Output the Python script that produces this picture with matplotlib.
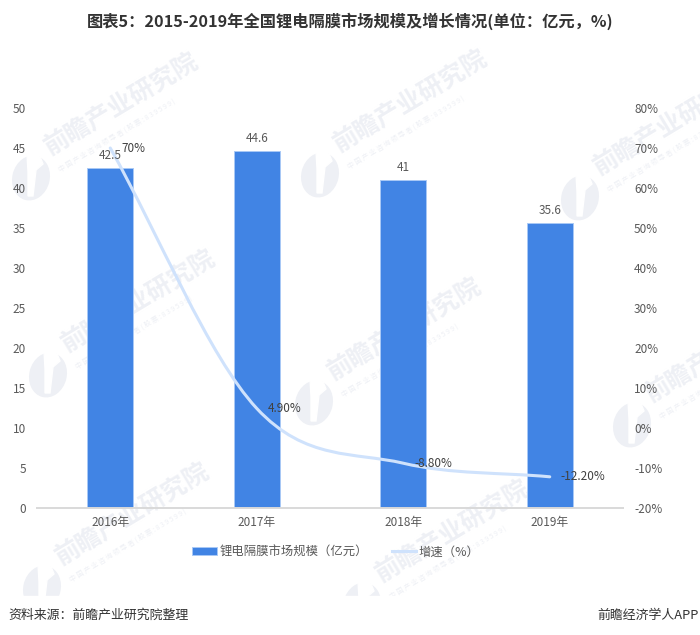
import matplotlib
matplotlib.use("Agg")
import matplotlib.pyplot as plt
from matplotlib.lines import Line2D
from matplotlib.patches import Ellipse, Patch, PathPatch, Polygon, Rectangle
from matplotlib.path import Path
from matplotlib.transforms import IdentityTransform

plt.rcParams["font.family"] = ["Noto Sans CJK SC", "DejaVu Sans"]

# 数据
years = ["2016年", "2017年", "2018年", "2019年"]
market_size = [42.5, 44.6, 41, 35.6]
growth = [70, 4.9, -8.8, -12.2]
growth_labels = ["70%", "4.90%", "-8.80%", "-12.20%"]
left_ticks = [0, 5, 10, 15, 20, 25, 30, 35, 40, 45, 50]
right_ticks = [-20, -10, 0, 10, 20, 30, 40, 50, 60, 70, 80]

W, H = 700, 635
BAR = "#4184e4"
LINE = "#cfe2fc"
GREY = "#595959"
MARK = "#eef0f5"

# 水印位置 (像素，左上角为原点)
marks = [(47, 150), (336, 147), (596, 170),
         (64, 347), (330, 375), (648, 397),
         (58, 560), (378, 577)]

fig = plt.figure(figsize=(W / 100, H / 100), dpi=100)
fig.patch.set_facecolor("white")

# 水印
for x, y in marks:
    fig.text(x / W, 1 - y / H, "前瞻产业研究院", fontsize=18, fontweight="bold", color=MARK,
             rotation=31, rotation_mode="anchor", ha="left", va="center", zorder=-3)
    fig.text((x + 12) / W, 1 - (y + 20) / H, " ".join("中国产业咨询领导者(股票:839599)"),
             fontsize=5, color=MARK, rotation=31, rotation_mode="anchor",
             ha="left", va="center", zorder=-3)
    cx, cy = x - 16, H - (y + 28)
    logo = Ellipse((cx, cy), 36, 44, angle=-15, color=MARK,
                   transform=IdentityTransform(), zorder=-3)
    slit = Polygon([(cx - 3, cy - 18), (cx + 2, cy - 18), (cx + 5, cy + 8), (cx + 12, cy + 14),
                    (cx + 8, cy + 24), (cx - 4, cy + 24), (cx - 3, cy + 6)], closed=True, color="white",
                   transform=IdentityTransform(), zorder=-2.9)
    fig.add_artist(logo)
    fig.add_artist(slit)
fig.add_artist(Rectangle((0, 0), W, H - 596, color="white",
                         transform=IdentityTransform(), zorder=-1))

ax = fig.add_axes([37 / W, (H - 508) / H, 586 / W, 400 / H])
ax.patch.set_visible(False)
pos = list(range(len(years)))
ax.bar(pos, market_size, width=0.315, color=BAR, edgecolor="#a9c9f6", linewidth=0.7, zorder=2)
ax.set_xlim(-0.5, 3.5)
ax.set_ylim(0, 50)
ax.set_xticks(pos, years)
ax.set_yticks(left_ticks)
ax.tick_params(axis="x", length=0, pad=6, labelsize=8.5, labelcolor=GREY)
ax.tick_params(axis="y", length=0, pad=8, labelsize=8.5, labelcolor=GREY)
for s in ["top", "left", "right"]:
    ax.spines[s].set_visible(False)
ax.spines["bottom"].set_color("#d9d9d9")
ax.spines["bottom"].set_linewidth(1.4)

ax2 = ax.twinx()
ax2.patch.set_visible(False)
ax2.set_ylim(-20, 80)
ax2.set_yticks(right_ticks, [f"{t}%" for t in right_ticks])
ax2.tick_params(axis="y", length=0, pad=8, labelsize=8.5, labelcolor=GREY)
for s in ax2.spines.values():
    s.set_visible(False)

# 平滑折线，用贝塞尔曲线连接各点，两端切线取弦的方向
verts = [(pos[0], growth[0])]
codes = [Path.MOVETO]
last = len(growth) - 1
for i in range(last):
    slope_a = (growth[i + 1] - growth[i]) if i == 0 else (growth[i + 1] - growth[i - 1]) / 2
    slope_b = (growth[i + 1] - growth[i]) if i + 1 == last else (growth[i + 2] - growth[i]) / 2
    c1 = (pos[i] + 1 / 3, growth[i] + slope_a / 3)
    c2 = (pos[i + 1] - 1 / 3, growth[i + 1] - slope_b / 3)
    verts += [c1, c2, (pos[i + 1], growth[i + 1])]
    codes += [Path.CURVE4] * 3
ax2.add_patch(PathPatch(Path(verts, codes), facecolor="none", edgecolor=LINE,
                        linewidth=2.2, capstyle="round", zorder=3))

# 数值标签放在折线之上
for p, v in zip(pos, market_size):
    ax2.annotate(f"{v}", (p, v), xycoords=ax.transData, xytext=(0, 9), textcoords="offset points",
                 ha="center", va="center", fontsize=8.5, color=GREY, zorder=4)
for p, v, label in zip(pos, growth, growth_labels):
    ax2.annotate(label, (p, v), xytext=(8, 0), textcoords="offset points",
                 ha="left", va="center", fontsize=8.5, color="#404040", zorder=4)

# 图例
handles = [Patch(facecolor=BAR, edgecolor="#a9c9f6", linewidth=0.7),
           Line2D([0], [0], color=LINE, linewidth=2.2)]
fig.legend(handles, ["锂电隔膜市场规模（亿元）", "增速（%）"], ncol=2, frameon=False,
           loc="center", bbox_to_anchor=(336 / W, 1 - 552 / H), fontsize=8.9, labelcolor=GREY,
           handlelength=2.0, handleheight=0.55, handletextpad=0.2, columnspacing=1.9)

fig.text(350 / W, 1 - 21 / H, "图表5：2015-2019年全国锂电隔膜市场规模及增长情况(单位：亿元，%)",
         ha="center", va="center", fontsize=11.7, fontweight="bold", color="#333333")
fig.text(8 / W, 1 - 615 / H, "资料来源：前瞻产业研究院整理", ha="left", va="center",
         fontsize=9.3, color="#333333")
fig.text(699 / W, 1 - 615 / H, "前瞻经济学人APP", ha="right", va="center",
         fontsize=9.3, color="#333333")

fig.savefig("out.png", dpi=100)
